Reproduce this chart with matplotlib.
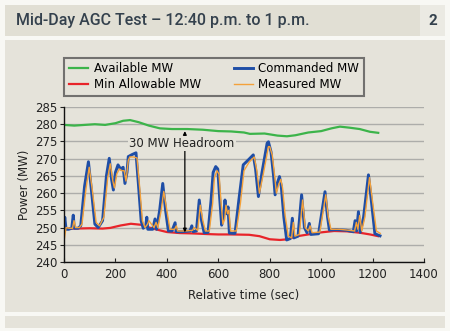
import numpy as np
import matplotlib.pyplot as plt
from matplotlib.patches import Rectangle

# commanded MW (blue)
cmd_t = [0, 3, 8, 18, 30, 36, 40, 55, 65, 80, 95, 105, 120, 133, 150, 165, 176, 185, 192, 200,
         210, 220, 230, 237, 245, 250, 265, 280, 290, 300, 308, 318, 322, 326, 345, 354, 360, 372,
         384, 395, 406, 420, 432, 436, 460, 490, 497, 502, 515, 526, 535, 545, 560, 572, 580, 590,
         598, 605, 613, 620, 626, 632, 638, 643, 665, 680, 697, 715, 736, 745, 756, 770, 790, 795,
         805, 815, 821, 830, 838, 845, 855, 866, 880, 888, 894, 910, 924, 935, 945, 954, 960, 990,
         1015, 1025, 1032, 1060, 1100, 1125, 1132, 1138, 1145, 1152, 1165, 1184, 1195, 1209, 1229]
cmd_mw = [250, 253, 249.5, 249.5, 249.8, 253.6, 249.8, 249.8, 250.5, 262, 269.1, 262, 251, 250, 252,
          265, 270.1, 264, 260.9, 266, 268.2, 267, 267.5, 262.8, 266, 270.6, 271.2, 271.7, 262, 252,
          249.8, 250.5, 253, 249.5, 249.5, 252.5, 249.5, 255, 262.8, 255, 249, 249, 251.4, 248.8,
          248.8, 249, 250.5, 248.8, 249, 258, 252, 248.5, 248.6, 258, 266, 267.7, 267, 259, 250.7,
          253, 258, 254, 256, 248.4, 248.3, 258, 268.2, 269.5, 271.1, 267, 259, 266, 274.5, 274.9,
          272, 265, 259.5, 263, 264.8, 262, 253, 246.4, 246.8, 252.7, 247, 247.5, 259.5, 250, 248.5,
          251.2, 248, 248.2, 260.4, 253, 249.3, 249.4, 249.2, 248.8, 252, 249, 254.6, 248.6, 253,
          265.3, 258, 248.2, 247.6]

# measured MW (orange)
meas_t = [0, 8, 20, 33, 39, 45, 60, 70, 85, 98, 110, 125, 138, 155, 170, 180, 190, 196, 205, 215,
          225, 234, 241, 250, 256, 270, 284, 295, 305, 315, 325, 330, 350, 358, 365, 378, 388, 400,
          412, 430, 437, 442, 470, 500, 506, 520, 530, 540, 550, 565, 578, 585, 595, 603, 610, 618,
          625, 630, 636, 641, 648, 670, 686, 700, 720, 740, 750, 760, 775, 795, 800, 810, 820, 826,
          835, 843, 850, 860, 872, 885, 892, 898, 915, 928, 938, 950, 957, 965, 995, 1018, 1028, 1038,
          1070, 1110, 1130, 1137, 1143, 1150, 1158, 1170, 1188, 1200, 1215, 1230]
meas_mw = [246, 250, 249.8, 249.8, 252, 250, 250, 251, 261, 267.5, 261, 251.5, 250.5, 253, 264.5,
           268.5, 263.5, 261.5, 265.5, 267, 266.5, 266.5, 263.5, 269.5, 270.5, 270.5, 270.2, 261,
           252, 250, 251, 252, 250, 251.5, 250, 255, 260.5, 255, 249.5, 249.5, 250.5, 249, 249,
           249.2, 250, 249.2, 256.5, 252, 249, 249, 257, 264.5, 266.5, 265.5, 258, 251, 252.5, 256.5,
           254, 255, 249, 249, 257, 266.5, 269, 270.5, 266.5, 260, 265.5, 273.5, 273.5, 271, 264.5,
           260, 262.5, 264, 261.5, 253.5, 247.5, 247, 251.5, 247.5, 248, 258, 250, 249, 250.5,
           248.5, 248.7, 259.5, 253, 249.5, 249.5, 249.2, 249, 251.5, 249.5, 253.5, 249, 253, 264.5,
           257.5, 249, 248.3]

# available MW (green)
avail_t = [0, 40, 80, 120, 160, 200, 230, 257, 290, 330, 373, 420, 480, 540, 600, 650, 700, 723,
           780, 830, 867, 900, 950, 1000, 1040, 1073, 1110, 1150, 1190, 1222]
avail_mw = [279.8, 279.6, 279.8, 280.0, 279.8, 280.3, 281.0, 281.2, 280.6, 279.6, 278.8, 278.6,
            278.6, 278.4, 278.0, 277.9, 277.6, 277.2, 277.3, 276.7, 276.5, 276.8, 277.6, 278.0,
            278.8, 279.3, 279.0, 278.6, 277.8, 277.5]

# min allowable MW (red)
minal_t = [0, 40, 100, 150, 180, 220, 260, 300, 340, 400, 450, 500, 560, 600, 650, 720, 760, 800,
           840, 870, 900, 950, 1000, 1050, 1100, 1150, 1190, 1222]
minal_mw = [249.6, 249.7, 249.8, 249.7, 249.9, 250.6, 251.1, 250.8, 249.8, 248.7, 248.4, 248.3,
            248.1, 248.0, 248.0, 247.9, 247.5, 246.6, 246.4, 246.6, 247.4, 248.0, 248.6, 249.0,
            248.9, 248.5, 248.0, 247.5]

x_ticks = [0, 200, 400, 600, 800, 1000, 1200, 1400]
y_ticks = [240, 245, 250, 255, 260, 265, 270, 275, 280, 285]

beige = '#e5e3da'
text_col = '#34414d'

fig = plt.figure(figsize=(4.5, 3.31), dpi=100)
fig.patch.set_facecolor('#f8f8f4')

W, H = 450, 331
def band(x0, y0, x1, y1, color):
    fig.add_artist(Rectangle((x0 / W, 1 - y1 / H), (x1 - x0) / W, (y1 - y0) / H,
                             transform=fig.transFigure, facecolor=color, edgecolor='none', zorder=0))

band(5, 5, 420, 36, '#e1dfd4')
band(420, 5, 445, 36, '#ebeae3')
band(5, 40, 445, 312, beige)
band(5, 316, 445, 328, beige)

fig.text(16 / W, 1 - 21 / H, 'Mid-Day AGC Test \u2013 12:40 p.m. to 1 p.m.',
         family=['Roboto', 'DejaVu Sans'], fontsize=11.5, fontweight='medium',
         color=text_col, va='center')
fig.text(433 / W, 1 - 21 / H, '2', fontsize=11, color=text_col, va='center', ha='center',
         family=['Roboto', 'DejaVu Sans'], fontweight='bold')

ax = fig.add_axes([64 / W, 1 - 262 / H, 360 / W, 155 / H])
ax.set_facecolor('none')

ax.plot(avail_t, avail_mw, color='#3cb44a', lw=1.6, label='Available MW')
ax.plot(minal_t, minal_mw, color='#e8242a', lw=1.6, label='Min Allowable MW')
ax.plot(cmd_t, cmd_mw, color='#1f4ea6', lw=2.1, label='Commanded MW')
ax.plot(meas_t, meas_mw, color='#f4a13a', lw=1.0, label='Measured MW')

ax.set_xlim(0, 1400)
ax.set_ylim(240, 285)
ax.set_xticks(x_ticks)
ax.set_yticks(y_ticks)
ax.tick_params(labelsize=8.5, colors='#222222', length=3, width=0.8, pad=2)
ax.tick_params(axis='x', direction='in', pad=4)
for s in ['top', 'right']:
    ax.spines[s].set_visible(False)
for s in ['left', 'bottom']:
    ax.spines[s].set_color('#111111')
    ax.spines[s].set_linewidth(1.0)
ax.yaxis.grid(True, color='#adadaa', lw=1.0)
ax.set_axisbelow(True)
ax.set_ylabel('Power (MW)', fontsize=8.5, color='#222222', labelpad=3)
ax.set_xlabel('Relative time (sec)', fontsize=8.5, color='#222222', labelpad=6)

# headroom annotation
ax.annotate('', xy=(470, 278), xytext=(470, 248.6),
            arrowprops=dict(arrowstyle='<|-|>', color='black', lw=0.9, mutation_scale=5,
                            shrinkA=0, shrinkB=0))
ax.text(458, 274.4, '30 MW Headroom', fontsize=8.5, ha='center', va='center', color='#222222',
        bbox=dict(facecolor=beige, edgecolor='none', pad=1))

leg = fig.legend(loc='lower left', bbox_to_anchor=(64 / W, 1 - 96 / H, 300 / W, 44 / H),
                 bbox_transform=fig.transFigure, mode='expand', ncol=2, fontsize=8.5,
                 frameon=True, fancybox=False, handlelength=1.6, handletextpad=0.5,
                 borderaxespad=0, labelspacing=0.25, columnspacing=1.0)
leg.get_frame().set_facecolor(beige)
leg.get_frame().set_edgecolor('#555555')
leg.get_frame().set_linewidth(1.5)

fig.savefig('out.png', dpi=100, facecolor=fig.get_facecolor())
